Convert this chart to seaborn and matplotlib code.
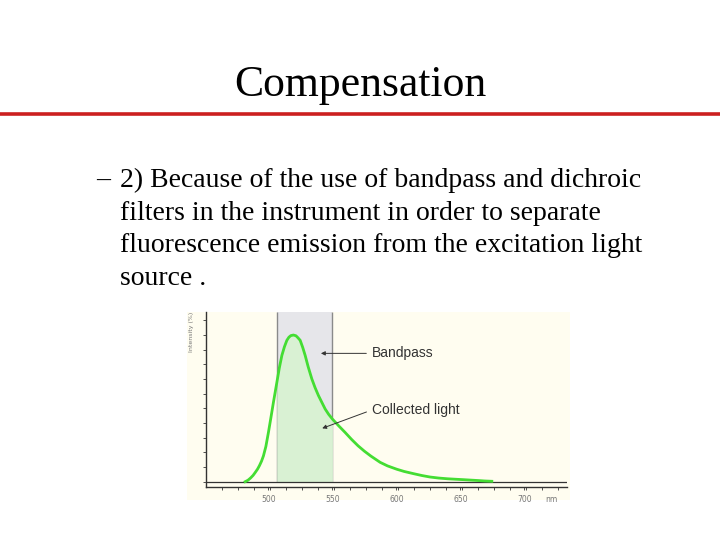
import numpy as np
import pandas as pd
import matplotlib
matplotlib.use("Agg")
import matplotlib.pyplot as plt
from matplotlib.patches import Rectangle
from matplotlib.lines import Line2D
import matplotlib.transforms as mtransforms
import seaborn as sns

# ---- data ----
wavelength_nm = [481.8, 484, 486, 488, 489.6, 491.5, 493, 494.6, 496.1, 498, 500,
                 502, 503.9, 506.6, 508.5, 510.5, 512.5, 514.4, 516, 517.5, 519.5,
                 521.5, 523, 524.8, 526.8, 528.7, 531, 533.9, 536.5, 539.1, 541.5,
                 544.3, 547, 550, 555, 559.9, 565, 570, 575, 580, 587.3, 593,
                 600.3, 606, 613.3, 620, 626.3, 633, 640, 646, 652.3, 658, 664,
                 669, 674.5]
intensity_pct = [0, 1.0, 2.5, 4.3, 6.2, 8.6, 11, 14, 17.6, 24, 33.6,
                 44, 54.1, 67.8, 77.5, 86.1, 92, 96.4, 98.5, 99.6, 100,
                 99.5, 98.2, 96.4, 91.5, 86.1, 78.5, 70.1, 64, 58.7, 54.5,
                 49.6, 46, 42.7, 38, 33.6, 28.8, 24.5, 20.8, 17.5, 13.2, 10.8,
                 8.5, 7.0, 5.5, 4.2, 3.2, 2.5, 2.0, 1.7, 1.4, 1.1, 0.8,
                 0.5, 0.3]
band_edges = [506.5, 550]
x_tick_values = [500, 550, 600, 650, 700]
x_tick_labels = ["500", "550", "600", "650", "700"]
unit_label = "nm"
y_label = "Intensity (%)"
bandpass_label = "Bandpass"
collected_label = "Collected light"
title = "Compensation"
bullet_lines = ["2) Because of the use of bandpass and dichroic",
                "filters in the instrument in order to separate",
                "fluorescence emission from the excitation light",
                "source ."]

df = pd.DataFrame({"nm": wavelength_nm, "intensity": intensity_pct})

fig = plt.figure(figsize=(7.2, 5.4), dpi=100)
fig.patch.set_facecolor("white")

# cream image background
fig.add_artist(Rectangle((187 / 720, 1 - 500 / 540), 383 / 720, 188 / 540,
                         transform=fig.transFigure, facecolor="#fffdf0",
                         edgecolor="none", zorder=0))

# title and red rule
serif = ["Liberation Serif", "DejaVu Serif"]
fig.text(0.5, 1 - 96 / 540, title, ha="center", va="baseline",
         fontsize=31.5, family=serif, color="black")
fig.add_artist(Line2D([0, 1], [1 - 114 / 540] * 2, transform=fig.transFigure,
                      color="#cc2020", lw=2.6))

# bullet text
baselines = [187, 219.5, 252, 285]
fig.text(96 / 720, 1 - baselines[0] / 540, "\u2013", ha="left", va="baseline",
         fontsize=20, family=serif)
for line, b in zip(bullet_lines, baselines):
    fig.text(120 / 720, 1 - b / 540, line, ha="left", va="baseline",
             fontsize=20, family=serif, color="black")

# chart axes
ax = fig.add_axes([205.7 / 720, (540 - 487) / 540, 361 / 720, 175 / 540])
ax.set_facecolor("#fffdf0")
ymin, ymax = -3.6, 115.7
ax.set_xlim(451, 733)
ax.set_ylim(ymin, ymax)

# bandpass region
ax.fill_between(band_edges, 0, ymax, color="#e6e6ea", zorder=1, lw=0)
ax.vlines(band_edges, 0, ymax, color="#8a8a8a", lw=1.0, zorder=2)

# collected light fill
xx = np.linspace(band_edges[0], band_edges[1], 200)
yy = np.interp(xx, wavelength_nm, intensity_pct)
ax.fill_between(xx, 0, yy, color="#d9f1d3", zorder=2, lw=0)

ax.axhline(0, color="#333333", lw=0.9, zorder=3)

sns.lineplot(data=df, x="nm", y="intensity", ax=ax, color="#44dd33",
             lw=2.0, zorder=4, legend=False)

# annotations
arrow = dict(arrowstyle="-|>", color="#333333", lw=0.7, mutation_scale=6,
             shrinkA=2, shrinkB=0, relpos=(0, 0.5))
ax.annotate(bandpass_label, xy=(541, 87.5), xytext=(580.8, 87.5),
            ha="left", va="center", fontsize=10, family="Liberation Sans",
            color="#333333", arrowprops=arrow, zorder=5)
ax.annotate(collected_label, xy=(542, 36.4), xytext=(580.8, 48.9),
            ha="left", va="center", fontsize=10, family="Liberation Sans",
            color="#333333", arrowprops=arrow, zorder=5)

# axes styling
for s in ["top", "right"]:
    ax.spines[s].set_visible(False)
for s in ["left", "bottom"]:
    ax.spines[s].set_color("#333333")
    ax.spines[s].set_linewidth(1.0)
ax.set_xticks(x_tick_values)
ax.set_xticklabels(x_tick_labels)
ax.set_xticks(np.arange(463.5, 733, 12.5), minor=True)
ax.tick_params(axis="x", which="both", direction="out", length=2.5, width=0.6,
               color="#333333", labelsize=5.5, labelcolor="#777777", pad=3)
ax.set_yticks(np.arange(0, 115, 10))
ax.set_yticklabels([])
ax.tick_params(axis="y", which="both", direction="out", length=2, width=0.6,
               color="#333333")
ax.set_xlabel("")
ax.set_ylabel("")
unit_tr = ax.transData + mtransforms.ScaledTranslation(0, -5.5 / 72, fig.dpi_scale_trans)
ax.text(721, ymin, unit_label, transform=unit_tr, ha="center", va="top",
        fontsize=5.5, color="#777777")
ax.text(-0.038, 1.0, y_label, transform=ax.transAxes, rotation=90,
        ha="center", va="top", fontsize=4.5, color="#777777")

fig.savefig("out.png", dpi=100)
